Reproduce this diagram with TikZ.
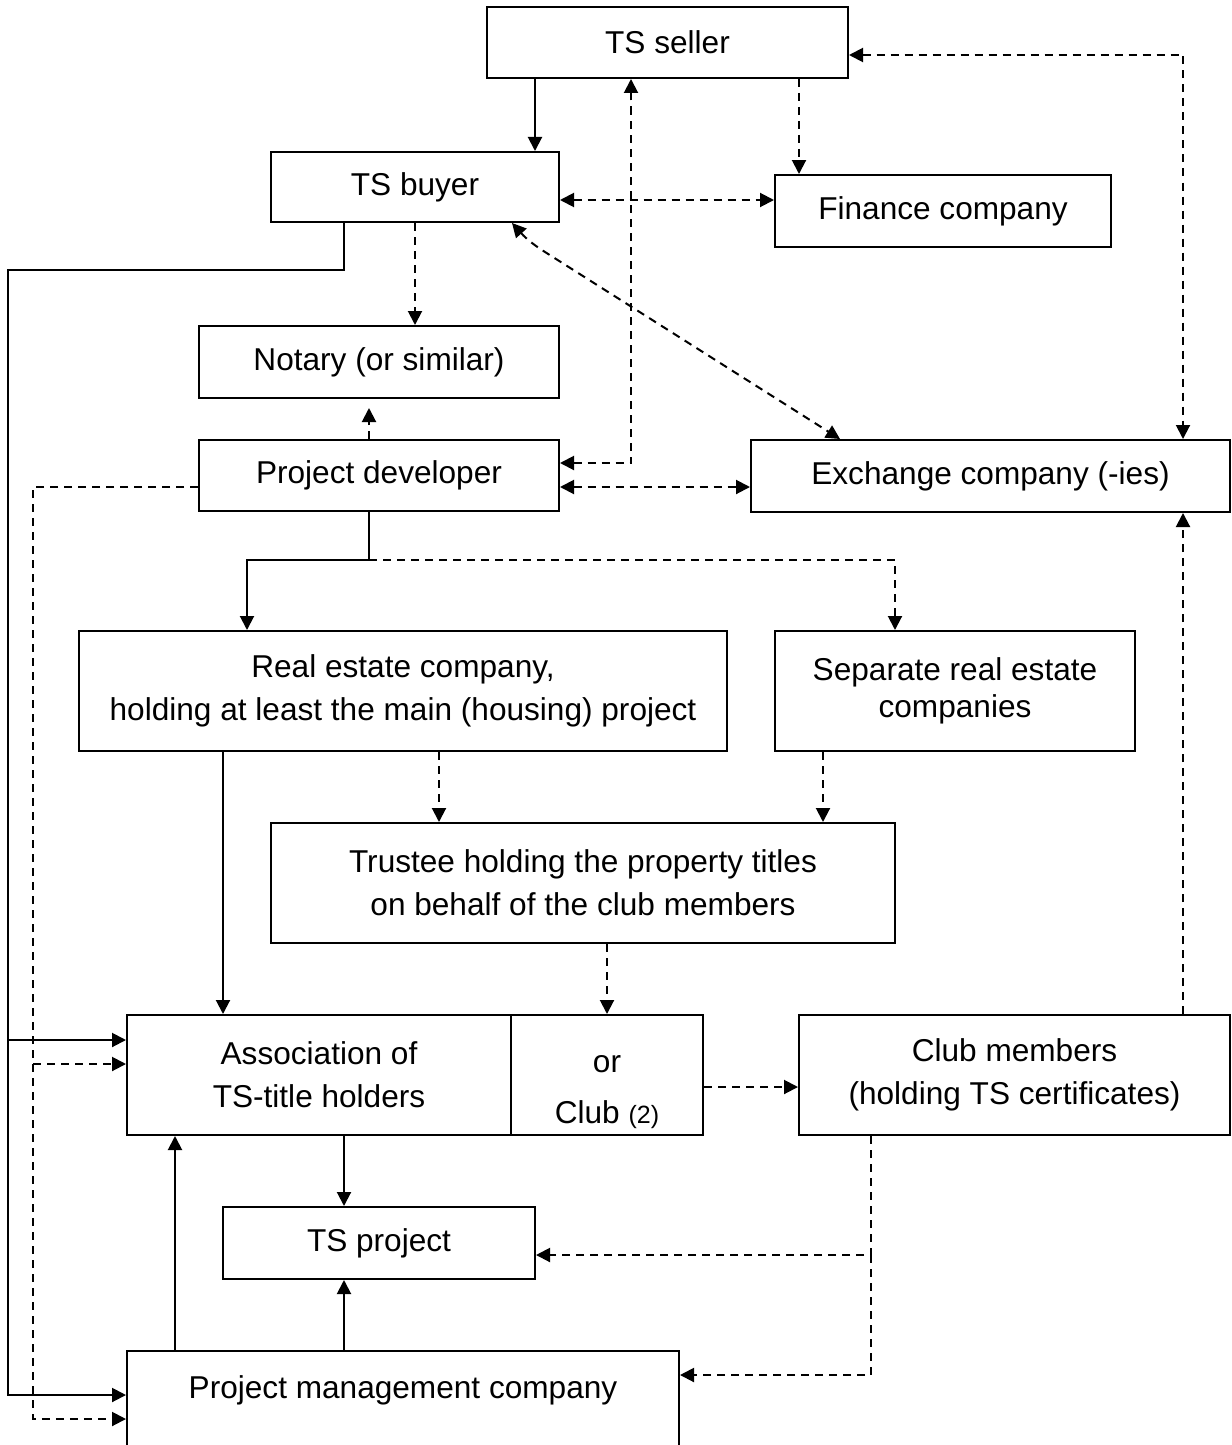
\documentclass[tikz,border=0pt]{standalone}
\usepackage{fontspec}
\setmainfont{Liberation Sans}
\usetikzlibrary{arrows.meta,positioning}

\begin{document}
\begin{tikzpicture}[x=0.5pt,y=-0.5pt,->,>={Triangle[length=7pt,width=7pt]},line width=1pt,
	caption/.style={align=center,font=\fontsize{15.8}{21.5}\selectfont},
	party/.style={caption,draw=black,line width=1pt,rectangle,inner sep=0pt},
	weak/.style={dash pattern=on 4pt off 3pt}]
	\useasboundingbox (0,0) rectangle (1231,1445);
	\clip (0,0) rectangle (1231,1445);

	\node[party,minimum width=180.5pt,minimum height=35.5pt]	(seller)		at (667.5,42.5)	{TS seller};
	\node[party,minimum width=144pt,minimum height=35pt]		(buyer)			at (415,187)	{TS buyer};
	\node[party,minimum width=168pt,minimum height=36pt]		(finance)		at (943,211)	{Finance company};
	\node[party,minimum width=180pt,minimum height=36pt]		(notary)		at (379,362)	{Notary (or similar)};
	\node[party,minimum width=180pt,minimum height=35.5pt]		(developer)		at (379,475.5)	{Project developer};
	\node[party,minimum width=239.5pt,minimum height=36pt]		(exchange)		at (990.5,476)	{Exchange company (-ies)};
	\node[party,minimum width=324pt,minimum height=60pt]		(estate)		at (403,691)	{Real estate company,\\holding at least the main (housing) project};
	\node[party,minimum width=180pt,minimum height=60pt]		(separate)		at (955,691)	{Separate real estate\\[-3pt]companies};
	\node[party,minimum width=312pt,minimum height=60pt]		(trustee)		at (583,883)	{Trustee holding the property titles\\on behalf of the club members};
	\node[party,minimum width=192pt,minimum height=60pt]		(association)	at (319,1075)	{Association of\\TS-title holders};
	\node[party,minimum width=96pt,minimum height=60pt]			(club)			at (607,1075)	{};
	\node[caption]												(clubtext)		at (607,1092)	{or\\[4pt]Club {\fontsize{12.5}{13}\selectfont(2)}};
	\node[party,minimum width=215.5pt,minimum height=60pt]		(members)		at (1014.5,1075) {Club members\\(holding TS certificates)};
	\node[party,minimum width=156pt,minimum height=36pt]		(project)		at (379,1243)	{TS project};
	\node[party,minimum width=276pt,minimum height=58pt]		(management)	at (403,1409)	{Project management company\\\mbox{}};

	\coordinate (solidbend)		at (8,270);
	\coordinate (solidtap)		at (8,1040);
	\coordinate (dashbend)		at (33,487);
	\coordinate (dashtap)		at (33,1064);
	\coordinate (split)			at (369,560);
	\coordinate (sellercorner)	at (1183,55);
	\coordinate (devcorner)		at (631,463);
	\coordinate (membercorner)	at (871,1255);
	\coordinate (buyerbend)		at (545,252);

	% top part
	\draw (seller.south -| 535,0) -- (buyer.north -| 535,0);
	\draw[weak] (seller.south -| 799,0) -- (finance.north -| 799,0);
	\draw[weak,<->] (buyer.east |- 0,200) -- (finance.west |- 0,200);
	\draw[weak,<->] (developer.east |- devcorner) -- (devcorner) -- (seller.south -| devcorner);
	\draw[weak,<->] (seller.east |- sellercorner) -- (sellercorner) -- (exchange.north -| sellercorner);
	\draw[weak,<->] (buyer.south -| 512,0) to[out=-48,in=148] (buyerbend) -- (exchange.north -| 840,0);
	\draw[weak] (buyer.south) -- (notary.north -| buyer.south);
	\draw[weak,shorten >=4.5pt] (developer.north -| 369,0) -- (notary.south -| 369,0);
	\draw[weak,<->] (developer.east |- 0,487) -- (exchange.west |- 0,487);

	% left side feeds
	\draw (buyer.south -| 344,0) |- (solidbend) -- (solidbend |- 0,1395) -- (management.west |- 0,1395);
	\draw (solidtap) -- (association.west |- solidtap);
	\draw[weak] (developer.west |- dashbend) -- (dashbend) -- (dashbend |- 0,1419) -- (management.west |- 0,1419);
	\draw[weak] (dashtap) -- (association.west |- dashtap);

	% middle part
	\draw (developer.south -| split) -- (split) -| (estate.north -| 247,0);
	\draw[weak] (split) -| (separate.north -| 895,0);
	\draw (estate.south -| 223,0) -- (association.north -| 223,0);
	\draw[weak] (estate.south -| 439,0) -- (trustee.north -| 439,0);
	\draw[weak] (separate.south -| 823,0) -- (trustee.north -| 823,0);
	\draw[weak] (trustee.south -| club.north) -- (club.north);
	\draw[weak] (club.east |- 0,1087) -- (members.west |- 0,1087);
	\draw[weak] (members.north -| 1183,0) -- (exchange.south -| 1183,0);

	% bottom part
	\draw (association.south -| 344,0) -- (project.north -| 344,0);
	\draw[weak] (members.south -| membercorner) |- (project.east |- membercorner);
	\draw[weak] (membercorner) |- (management.east |- 0,1375);
	\draw (management.north -| 175,0) -- (association.south -| 175,0);
	\draw (management.north -| 344,0) -- (project.south -| 344,0);
\end{tikzpicture}
\end{document}
